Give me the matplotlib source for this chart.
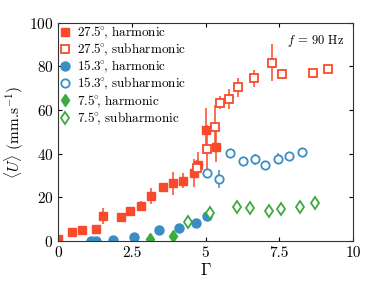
import numpy as np
import matplotlib
matplotlib.use("Agg")
import matplotlib.pyplot as plt

plt.rcParams['font.family'] = 'serif'
plt.rcParams['font.serif'] = ['cmr10']
plt.rcParams['mathtext.fontset'] = 'cm'
plt.rcParams['axes.formatter.use_mathtext'] = True

# 27.5 deg
red_h_x = [0, 0.46, 0.82, 1.29, 1.51, 2.14, 2.44, 2.82, 3.15, 3.57, 3.88, 4.23, 4.61, 4.73, 5.03, 5.34]
red_h_y = [1, 4.1, 5, 5.6, 11.6, 11.1, 13.6, 16.2, 20.6, 24.6, 26.4, 27.6, 31.2, 34.8, 51, 43.2]
red_h_err = [0, 0, 0, 0, 3.7, 0, 0, 2, 3.5, 2, 5.3, 3.5, 6.5, 6, 10, 7]
red_s_x = [4.72, 5.04, 5.32, 5.48, 5.81, 6.11, 6.64, 7.26, 7.6, 8.65, 9.15]
red_s_y = [33.3, 42, 52.4, 63.3, 65, 70.3, 74.5, 81.6, 76.3, 76.7, 78.7]
red_s_err = [4, 11, 10, 3, 4.5, 4.5, 4, 8.4, 0, 0, 1.5]

# 15.3 deg
blue_h_x = [1.13, 1.28, 1.85, 2.59, 3.42, 4.1, 4.69, 5.04]
blue_h_y = [0, 0, 0.5, 2, 5, 5.8, 8.4, 11.4]
blue_s_x = [5.06, 5.47, 5.82, 6.26, 6.69, 7.03, 7.45, 7.83, 8.28]
blue_s_y = [31.3, 28.4, 40.1, 36.6, 37.5, 34.9, 37.8, 38.9, 40.9]
blue_s_err = [0, 4, 1.5, 0, 2.5, 0, 2.5, 0, 0]

# 7.5 deg
green_h_x = [3.11, 3.89]
green_h_y = [1, 2.4]
green_s_x = [4.4, 5.15, 6.06, 6.52, 7.15, 7.56, 8.19, 8.7]
green_s_y = [8.8, 12.7, 15.6, 15, 13.9, 14.6, 15.6, 17.4]

labels = ['27.5', '27.5', '15.3', '15.3', '7.5', '7.5']
kinds = ['harmonic', 'subharmonic'] * 3

red = '#F94A2C'
blue = '#3A8EC4'
green = '#3CAA3C'


def lab(i):
    return r'$%s^{\!\!\circ}\!\!$, %s' % (labels[i], kinds[i])


fig = plt.figure(figsize=(3.9, 2.93), dpi=100)
ax = fig.add_axes([0.149, 0.177, 0.756, 0.746])

ax.errorbar(red_h_x, red_h_y, yerr=red_h_err, fmt='none', ecolor=red, elinewidth=1.1)
ax.errorbar(red_s_x, red_s_y, yerr=red_s_err, fmt='none', ecolor=red, elinewidth=1.1)
ax.errorbar(blue_s_x, blue_s_y, yerr=blue_s_err, fmt='none', ecolor=blue, elinewidth=1.1)

ax.plot(red_h_x, red_h_y, 's', color=red, ms=6, mec=red, label=lab(0))
ax.plot(red_s_x, red_s_y, 's', color=red, ms=5.5, mfc='white', mec=red, mew=1.3, label=lab(1))
ax.plot(blue_h_x, blue_h_y, 'o', color=blue, ms=6.5, label=lab(2))
ax.plot(blue_s_x, blue_s_y, 'o', color=blue, ms=6, mfc='white', mec=blue, mew=1.3, label=lab(3))
ax.plot(green_h_x, green_h_y, 'd', color=green, ms=6.5, label=lab(4))
ax.plot(green_s_x, green_s_y, 'd', color=green, ms=6.5, mfc='white', mec=green, mew=1.3, label=lab(5))

ax.set_xlim(0, 10)
ax.set_ylim(0, 100)
ax.set_xticks([0, 2.5, 5, 7.5, 10])
ax.set_xticklabels(['0', '2.5', '5', '7.5', '10'])
ax.set_yticks([0, 20, 40, 60, 80, 100])
ax.tick_params(direction='in', top=True, right=True, labelsize=11, length=3)
for s in ax.spines.values():
    s.set_color('#333333')
ax.set_xlabel(r'$\Gamma$', fontsize=12, labelpad=2)
ax.set_ylabel(r'$\langle U\rangle$ (mm.s$^{-1}$)', fontsize=11, labelpad=2)
ax.text(0.97, 0.95, r'$f$ = 90 Hz', transform=ax.transAxes, ha='right', va='top', fontsize=9)

ax.legend(loc='upper left', frameon=False, numpoints=1, fontsize=9.5, handlelength=0.8,
          handletextpad=0.5, labelspacing=0.08, borderaxespad=0.1, borderpad=0.05)

fig.savefig('out.png', dpi=100)
